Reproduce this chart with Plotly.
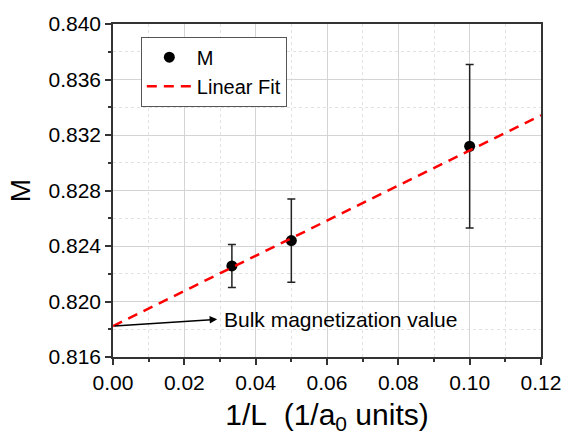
import plotly.graph_objects as go

# data
inv_L = [1/30, 0.05, 0.10]
M_vals = [0.82256, 0.82439, 0.83119]
M_err = [0.00155, 0.0030, 0.0059]
fit_intercept = 0.81823
fit_slope = 0.1266
fit_x = [0.0, 0.12]
fit_y = [fit_intercept + fit_slope * x for x in fit_x]

FONT = "Arial, Liberation Sans, sans-serif"

fig = go.Figure()
fig.add_trace(go.Scatter(
    x=inv_L, y=M_vals, mode="markers", name="M",
    marker=dict(color="black", size=11, symbol="circle"),
    error_y=dict(type="data", array=M_err, visible=True, color="#222222", thickness=1.5, width=4),
))
fig.add_trace(go.Scatter(
    x=fit_x, y=fit_y, mode="lines", name="Linear Fit",
    line=dict(color="#ff0000", width=2.5, dash="10px,7px"),
))

axis_common = dict(
    showline=True, linecolor="#333333", linewidth=1.5, mirror=True,
    ticks="outside", ticklen=6, tickwidth=1.5, tickcolor="#333333",
    showgrid=True, gridcolor="#d4d4d4", gridwidth=1,
    zeroline=False,
    tickfont=dict(family=FONT, size=21, color="black"),
)

fig.update_xaxes(
    range=[0, 0.12], dtick=0.02, tick0=0, tickformat=".2f",
    minor=dict(dtick=0.01, ticks="outside", ticklen=3, tickcolor="#333333",
               showgrid=True, gridcolor="#e2e2e2", griddash="dot"),
    title=dict(text="1/L\u00a0\u00a0(1/a<sub>0</sub> units)", font=dict(family=FONT, size=30, color="black"), standoff=11),
    **axis_common,
)
fig.update_yaxes(
    range=[0.816, 0.840], dtick=0.004, tick0=0.816, tickformat=".3f",
    minor=dict(dtick=0.002, ticks="outside", ticklen=3, tickcolor="#333333",
               showgrid=True, gridcolor="#e2e2e2", griddash="dot"),
    title=dict(text="M", font=dict(family=FONT, size=28, color="black"), standoff=10),
    **axis_common,
)

fig.add_annotation(
    x=0.0292, y=0.81872, ax=0.0, ay=fit_intercept,
    xref="x", yref="y", axref="x", ayref="y",
    text="", showarrow=True, arrowhead=2, arrowsize=1, arrowwidth=1.5, arrowcolor="black",
    standoff=0, startstandoff=0,
)
fig.add_annotation(
    x=0.0305, y=0.8187, xref="x", yref="y", xanchor="left", yanchor="middle",
    text="Bulk magnetization value", showarrow=False,
    font=dict(family=FONT, size=21, color="black"),
)

fig.update_layout(
    width=580, height=439,
    margin=dict(l=113, r=39, t=13, b=82),
    paper_bgcolor="white", plot_bgcolor="white",
    showlegend=True,
    legend=dict(
        x=0.065, y=0.962, xanchor="left", yanchor="top",
        bgcolor="white", bordercolor="#555555", borderwidth=1,
        font=dict(family=FONT, size=20, color="black"),
        itemwidth=45, tracegroupgap=0,
    ),
)

fig.write_html("out.html")
